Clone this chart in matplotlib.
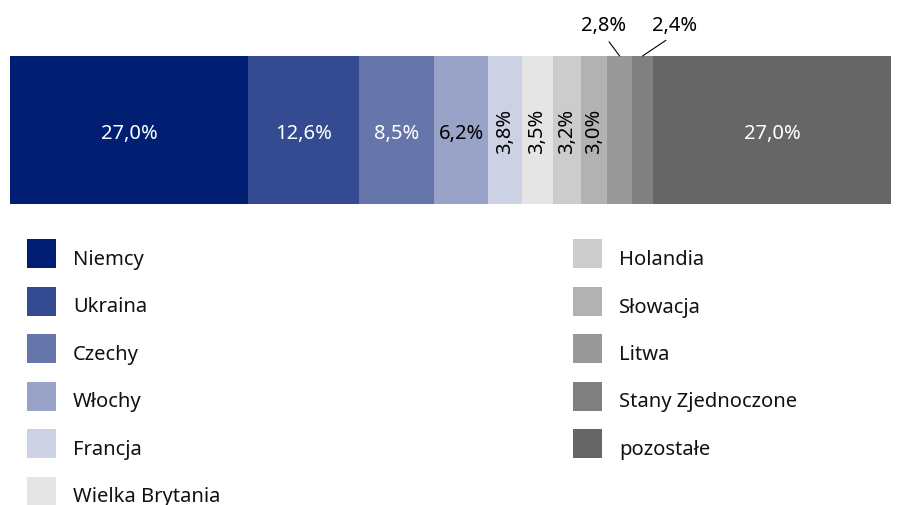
import matplotlib
matplotlib.use("Agg")
import matplotlib.pyplot as plt
import numpy as np
from matplotlib.patches import Rectangle

plt.rcParams["font.family"] = ["Noto Sans", "DejaVu Sans"]

countries = ["Niemcy", "Ukraina", "Czechy", "Włochy", "Francja", "Wielka Brytania",
             "Holandia", "Słowacja", "Litwa", "Stany Zjednoczone", "pozostałe"]
shares = [27.0, 12.6, 8.5, 6.2, 3.8, 3.5, 3.2, 3.0, 2.8, 2.4, 27.0]
colors = ["#001f73", "#344b92", "#6676aa", "#99a3c7", "#ccd1e3", "#e5e5e5",
          "#cccccc", "#b2b2b2", "#999999", "#808080", "#666666"]
label_colors = ["white", "white", "white", "black", "black", "black",
                "black", "black", "black", "black", "white"]
# how each value label is placed: h = horizontal, v = rotated, out = above with leader
label_mode = ["h", "h", "h", "h", "v", "v", "v", "v", "out", "out", "h"]
out_offsets = {8: (-16, 34), 9: (32, 34)}

W, H = 901, 506
fig = plt.figure(figsize=(W / 100, H / 100), dpi=100)
fig.patch.set_facecolor("white")

# bar axes, placed in pixel terms
ax = fig.add_axes([10 / W, (H - 205) / H, 881 / W, 148 / H])
ax.set_xlim(0, sum(shares))
ax.set_ylim(0, 1)
ax.axis("off")

left = np.concatenate([[0], np.cumsum(shares)[:-1]])
ax.barh(0.5, shares, left=left, height=1.0, color=colors, edgecolor="none")

fmt = lambda v: f"{v:.1f}%".replace(".", ",")
for i, (v, l) in enumerate(zip(shares, left)):
    cx = l + v / 2
    if label_mode[i] == "h":
        ax.text(cx, 0.5, fmt(v), ha="center", va="center_baseline", fontsize=14.5,
                color=label_colors[i])
    elif label_mode[i] == "v":
        ax.text(cx, 0.5, fmt(v), ha="center", va="center", fontsize=14.5,
                color=label_colors[i], rotation=90)
    else:
        ax.annotate(fmt(v), xy=(cx, 1.0), xytext=out_offsets[i],
                    textcoords="offset pixels", ha="center", va="center_baseline",
                    fontsize=14.5, color="black", annotation_clip=False,
                    arrowprops=dict(arrowstyle="-", color="black", lw=0.8,
                                    relpos=(0.5, 0.0), shrinkA=4, shrinkB=0))

# legend drawn in pixel space
lax = fig.add_axes([0, 0, 1, 1])
lax.set_xlim(0, W)
lax.set_ylim(H, 0)
lax.axis("off")
n_left = 6
for i, (name, c) in enumerate(zip(countries, colors)):
    col, row = (0, i) if i < n_left else (1, i - n_left)
    x0 = 27 if col == 0 else 573
    yc = 254.5 + 47.5 * row
    lax.add_patch(Rectangle((x0, yc - 14.5), 29, 29, facecolor=c, edgecolor="none"))
    lax.text(x0 + 46, yc + 3, name, ha="left", va="center_baseline", fontsize=14.5,
             color="#111111")

fig.savefig("out.png", dpi=100)
